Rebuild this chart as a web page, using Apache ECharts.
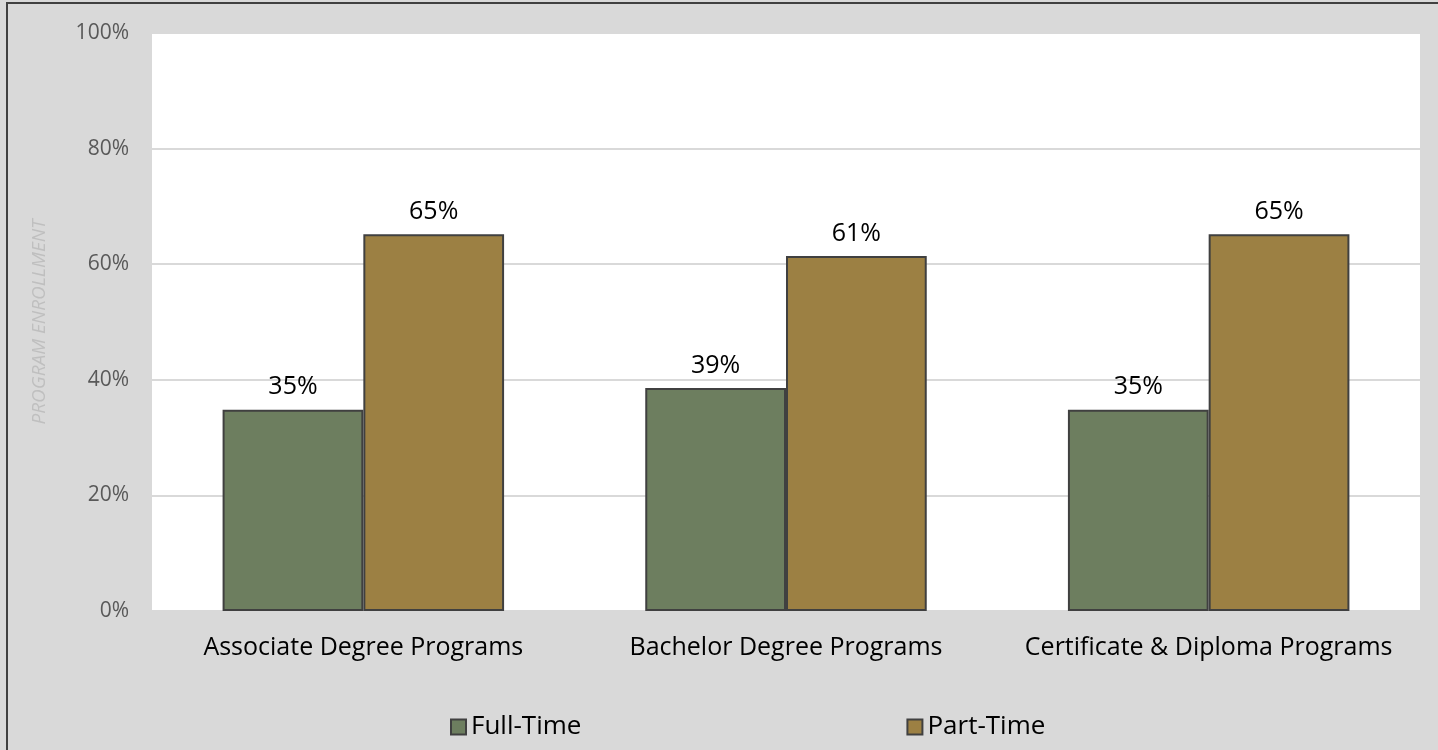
<!DOCTYPE html>
<html>
<head>
<meta charset="utf-8">
<script src="https://cdn.jsdelivr.net/npm/echarts@6/dist/echarts.min.js"></script>
<style>
  html, body { margin: 0; padding: 0; background: #d9d9d9; }
  #chart { width: 1438px; height: 750px; }
</style>
</head>
<body>
<div id="chart"></div>
<script>
// chart data
const categories = ['Associate Degree Programs', 'Bachelor Degree Programs', 'Certificate & Diploma Programs']
const fullTime = [34.8, 38.6, 34.8]
const partTime = [65.2, 61.4, 65.2]
const yTicks = [0, 20, 40, 60, 80, 100]

const fontFamily = '"Open Sans", "Noto Sans", sans-serif'
const chart = echarts.init(document.getElementById('chart'))

const labelOpt = {
  show: true,
  position: 'top',
  distance: 10,
  color: '#000',
  fontSize: 25,
  fontFamily: fontFamily,
  formatter: p => Math.round(p.value) + '%'
}

chart.setOption({
  backgroundColor: '#d9d9d9',
  animation: false,
  graphic: [{
    type: 'rect',
    shape: { x: 7, y: 3, width: 1440, height: 760 },
    style: { fill: 'none', stroke: '#404040', lineWidth: 2 },
    silent: true
  }],
  legend: {
    bottom: 5,
    left: 445,
    itemGap: 325,
    itemWidth: 15,
    itemHeight: 15,
    icon: 'rect',
    textStyle: { fontSize: 26, color: '#000', fontFamily: fontFamily },
    data: ['Full-Time', 'Part-Time']
  },
  grid: {
    left: 152,
    right: 18,
    top: 33,
    bottom: 139,
    show: true,
    backgroundColor: '#fff',
    borderWidth: 0
  },
  xAxis: {
    type: 'category',
    data: categories,
    axisLine: { show: true, lineStyle: { color: '#d9d9d9', width: 2 } },
    axisTick: { show: false },
    axisLabel: { interval: 0, hideOverlap: false, color: '#000', fontSize: 25, fontFamily: fontFamily, margin: 24 }
  },
  yAxis: {
    type: 'value',
    min: yTicks[0],
    max: yTicks[yTicks.length - 1],
    interval: 20,
    name: 'PROGRAM ENROLLMENT',
    nameLocation: 'middle',
    nameGap: 103,
    nameTextStyle: { color: '#bfbfbf', fontSize: 19, fontStyle: 'italic', fontFamily: fontFamily },
    axisLine: { show: false },
    axisTick: { show: false },
    axisLabel: { color: '#595959', fontSize: 21, fontFamily: fontFamily, margin: 23, formatter: '{value}%' },
    splitLine: { lineStyle: { color: '#d9d9d9', width: 2 } }
  },
  series: [{
    name: 'Full-Time',
    type: 'bar',
    data: fullTime,
    barWidth: '33.3%',
    barGap: '0%',
    itemStyle: { color: '#6d7e5f', borderColor: '#404040', borderWidth: 2 },
    label: labelOpt
  }, {
    name: 'Part-Time',
    type: 'bar',
    data: partTime,
    barWidth: '33.3%',
    itemStyle: { color: '#9c8043', borderColor: '#404040', borderWidth: 2 },
    label: labelOpt
  }]
})
</script>
</body>
</html>
